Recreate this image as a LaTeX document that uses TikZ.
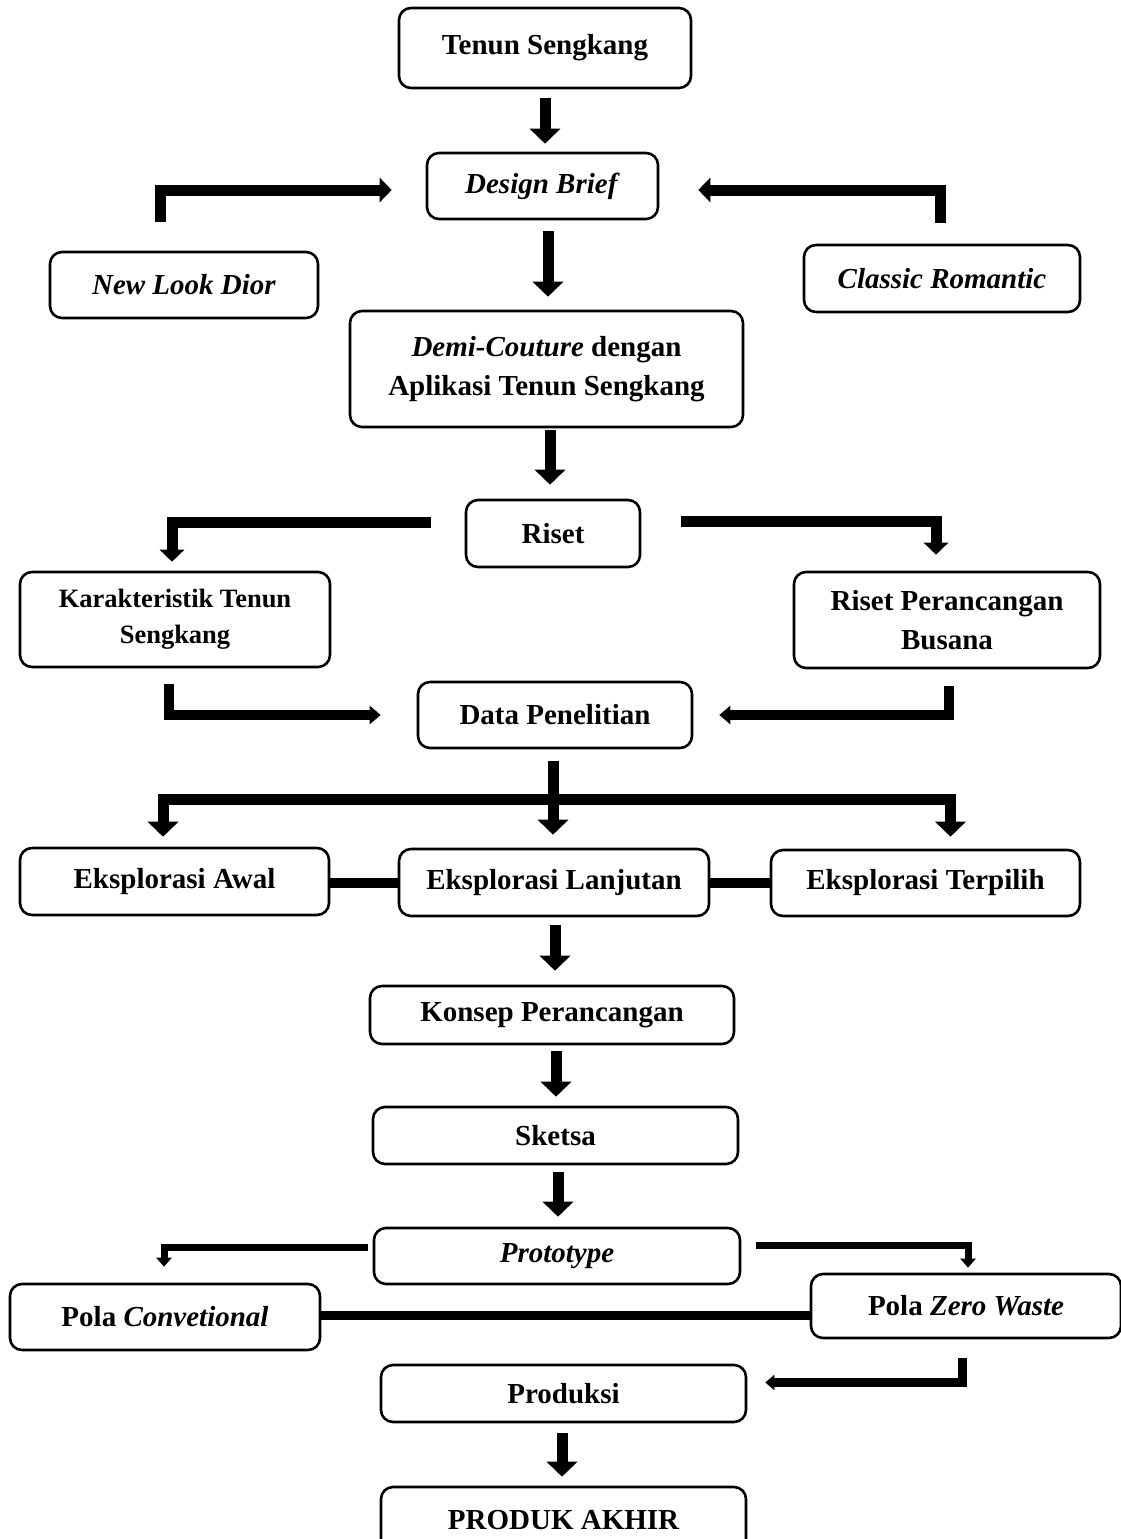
\documentclass[tikz,border=0pt]{standalone}
\usepackage{fontspec}
\setmainfont{Liberation Serif}
\usetikzlibrary{arrows.meta,calc}
\begin{document}
\begin{tikzpicture}[x=1pt,y=-1pt,
 box/.style={draw,line width=2.6pt,rounded corners=12pt,inner sep=0pt,align=center,font=\bfseries\fontsize{29}{39}\selectfont},
 smallfont/.style={font=\bfseries\fontsize{26.5}{36}\selectfont},
 bigarr/.style={line width=11pt,line join=miter,-{Triangle[width=30pt,length=15pt]}},
 medarr/.style={line width=11pt,line join=miter,-{Triangle[width=24pt,length=12pt]}},
 smarr/.style={line width=10pt,line join=miter,-{Triangle[width=18pt,length=11pt]}},
 tinyarr/.style={line width=9pt,line join=miter,-{Triangle[width=15pt,length=9pt]}},
 thinarr/.style={line width=7pt,line join=miter,-{Triangle[width=15pt,length=9pt]}},
 conn/.style={line width=10pt},
 thinconn/.style={line width=9pt}
]
\fill[white] (0,0) rectangle (1121,1539);
\useasboundingbox (0,0) rectangle (1121,1539);

% nodes
\node[box,minimum width=292pt,minimum height=80pt] (ts) at (545,48) {\raisebox{5pt}{Tenun Sengkang}};
\node[box,minimum width=231pt,minimum height=66pt] (db) at (542.5,186) {\textit{Design Brief}};
\node[box,minimum width=268pt,minimum height=66pt] (nld) at (184,285) {\textit{New Look Dior}};
\node[box,minimum width=276pt,minimum height=67pt] (cr) at (942,278.5) {\textit{Classic Romantic}};
\node[box,minimum width=393pt,minimum height=116pt] (dc) at (546.5,369) {\textit{Demi-Couture} dengan\\Aplikasi Tenun Sengkang};
\node[box,minimum width=174pt,minimum height=67pt] (riset) at (553,533.5) {Riset};
\node[box,smallfont,minimum width=310pt,minimum height=95pt] (kar) at (175,619.5) {Karakteristik Tenun\\Sengkang};
\node[box,minimum width=306pt,minimum height=96pt] (rpb) at (947,620) {Riset Perancangan\\Busana};
\node[box,minimum width=274pt,minimum height=66pt] (data) at (555,715) {Data Penelitian};
\node[box,minimum width=309pt,minimum height=67pt] (ea) at (174.5,881.5) {Eksplorasi Awal};
\node[box,minimum width=310pt,minimum height=67pt] (el) at (554,882.5) {Eksplorasi Lanjutan};
\node[box,minimum width=309pt,minimum height=66pt] (et) at (925.5,883) {Eksplorasi Terpilih};
\node[box,minimum width=364pt,minimum height=58pt] (kp) at (552,1015) {Konsep Perancangan};
\node[box,minimum width=365pt,minimum height=57pt] (sk) at (555.5,1135.5) {Sketsa};
\node[box,minimum width=366pt,minimum height=56pt] (pr) at (557,1256) {\textit{Prototype}};
\node[box,minimum width=310pt,minimum height=66pt] (pc) at (165,1317) {Pola \textit{Convetional}};
\node[box,minimum width=310pt,minimum height=64pt] (pz) at (966,1306) {Pola \textit{Zero Waste}};
\node[box,minimum width=365pt,minimum height=57pt] (prod) at (563.5,1393.5) {Produksi};
\node[box,minimum width=365pt,minimum height=80pt] (pa) at (563.5,1527) {\raisebox{15pt}{PRODUK AKHIR}};

% connectors
\draw[bigarr] ([yshift=-9pt]ts.south) -- ([xshift=2.5pt,yshift=8pt]db.north);
\draw[medarr] ([xshift=-24pt,yshift=29pt]nld.north) |- ([xshift=-34pt,yshift=-4pt]db.west);
\draw[medarr] ([xshift=-2pt,yshift=21pt]cr.north) |- ([xshift=39pt,yshift=-4pt]db.east);
\draw[bigarr] ([xshift=5.5pt,yshift=-11pt]db.south) -- ([xshift=1.5pt,yshift=13pt]dc.north);
\draw[bigarr] ([xshift=3.5pt,yshift=-2pt]dc.south) -- ([xshift=-3pt,yshift=14pt]riset.north);
\draw[medarr] ([xshift=-34pt,yshift=11.5pt]riset.west) -| ([xshift=-3pt,yshift=9pt]kar.north);
\draw[medarr] ([xshift=40pt,yshift=12.5pt]riset.east) -| ([xshift=-11pt,yshift=16pt]rpb.north);
\draw[smarr] ([xshift=-6pt,yshift=-16pt]kar.south) |- ([xshift=-36pt,yshift=0pt]data.west);
\draw[smarr] ([xshift=2pt,yshift=-17pt]rpb.south) |- ([xshift=26pt,yshift=0pt]data.east);

\coordinate (split) at ($(data.south)+(-2,50)$);
\draw[bigarr] ([xshift=-2pt,yshift=-12pt]data.south) -- (split) -- ([xshift=-1pt,yshift=13pt]el.north);
\draw[bigarr] (split) -| ([xshift=-11.5pt,yshift=10pt]ea.north);
\draw[bigarr] (split) -| ([xshift=25pt,yshift=12pt]et.north);

\draw[conn] (el.west -| ea.east) -- (el.west);
\draw[conn] (el.east) -- (el.east -| et.west);

\draw[bigarr] ([xshift=1pt,yshift=-8pt]el.south) -- ([xshift=3pt,yshift=14pt]kp.north);
\draw[bigarr] ([xshift=4pt,yshift=-6pt]kp.south) -- ([xshift=0.5pt,yshift=9pt]sk.north);
\draw[bigarr] ([xshift=2.5pt,yshift=-7pt]sk.south) -- ([xshift=1pt,yshift=10pt]pr.north);

\draw[thinarr] ([xshift=-5pt,yshift=9pt]pr.west) -| ([xshift=-1pt,yshift=16pt]pc.north);
\draw[thinarr] ([xshift=15pt,yshift=11pt]pr.east) -| ([xshift=2pt,yshift=5pt]pz.north);

\draw[thinconn] ([yshift=2pt]pc.east) -- ([yshift=2pt]pc.east -| pz.west);

\draw[tinyarr] ([xshift=-4pt,yshift=-19pt]pz.south) |- ([xshift=18pt,yshift=11pt]prod.east);
\draw[bigarr] ([xshift=-1.5pt,yshift=-10pt]prod.south) -- ([xshift=-1.5pt,yshift=9pt]pa.north);
\end{tikzpicture}
\end{document}
